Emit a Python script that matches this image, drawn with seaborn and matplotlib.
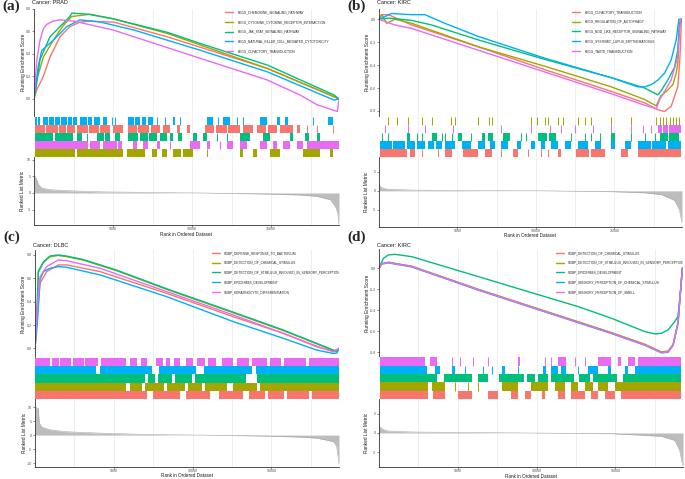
import numpy as np
import pandas as pd
import matplotlib
matplotlib.use("Agg")
import matplotlib.pyplot as plt
import seaborn as sns
from matplotlib.lines import Line2D

sns.set_theme(style="white")
plt.rcParams['font.family'] = ['Liberation Sans', 'DejaVu Sans']
plt.rcParams['axes.unicode_minus'] = False

W, H = 685, 479
N_GENES = 19300
COLORS = ['#F8766D', '#A3A500', '#00BF7D', '#00B0F6', '#E76BF3']
RED, OLIVE, GREEN, BLUE, MAGENTA = COLORS

# ---------------- Panel (a) PRAD ----------------
A_SETS = ["KEGG_CHEMOKINE_SIGNALING_PATHWAY", "KEGG_CYTOKINE_CYTOKINE_RECEPTOR_INTERACTION",
          "KEGG_JAK_STAT_SIGNALING_PATHWAY", "KEGG_NATURAL_KILLER_CELL_MEDIATED_CYTOTOXICITY",
          "KEGG_OLFACTORY_TRANSDUCTION"]
A_RANK_CHEMO = [0, 170, 590, 1010, 1640, 2270, 2910, 3540, 5060, 8440, 14770, 18990, 19300]
A_ES_CHEMO = [0.0, 0.08, 0.20, 0.37, 0.55, 0.64, 0.68, 0.69, 0.68, 0.55, 0.27, 0.02, 0.0]
A_RANK_CYTO = [0, 170, 590, 1220, 1850, 2390, 3540, 5000, 8440, 14770, 18990, 19300]
A_ES_CYTO = [0.0, 0.17, 0.37, 0.52, 0.65, 0.73, 0.75, 0.71, 0.58, 0.27, 0.02, 0.0]
A_RANK_JAK = [0, 130, 380, 1010, 1640, 2270, 2400, 3440, 5000, 8440, 10550, 14770, 18990, 19300]
A_ES_JAK = [0.0, 0.10, 0.35, 0.55, 0.64, 0.73, 0.76, 0.75, 0.71, 0.59, 0.49, 0.30, 0.035, 0.0]
A_RANK_NK = [0, 270, 490, 1220, 2070, 2910, 4220, 6330, 10550, 14770, 18990, 19300]
A_ES_NK = [0.0, 0.29, 0.43, 0.52, 0.64, 0.70, 0.68, 0.61, 0.43, 0.24, -0.01, 0.0]
A_RANK_OLF = [0, 170, 380, 590, 800, 1220, 1650, 2490, 5020, 10510, 14730, 16840, 17890, 18950, 19200, 19300]
A_ES_OLF = [0.0, 0.34, 0.52, 0.62, 0.66, 0.69, 0.70, 0.69, 0.61, 0.36, 0.17, 0.035, -0.05, -0.10, -0.11, 0.0]
A_MET_RANK = [0, 170, 280, 490, 1010, 2070, 4180, 8400, 10520, 14740, 16850, 17900, 18750, 19070, 19220, 19300]
A_MET_VAL = [5.5, 4.0, 2.5, 1.5, 1.0, 0.7, 0.35, 0.1, 0.0, -0.3, -0.6, -1.0, -2.0, -4.0, -6.0, -9.6]
A_HIT_NK = [[60, 170], [270, 380], [590, 880], [940, 1250], [1300, 1650], [1700, 2070], [2170, 2400], [2480, 2700],
            [2910, 3330], [3440, 3700], [3800, 4180], [4390, 4600], [4920, 4920], [5130, 5130], [5970, 6300],
            [6380, 6710], [6820, 7100], [7200, 7550], [7760, 7760], [8290, 8290], [8820, 8930], [9240, 9240],
            [10930, 11350], [11670, 11670], [11980, 12400], [12830, 12830], [13250, 13250], [14310, 14730],
            [15360, 15570], [15890, 16100], [17680, 17680], [18630, 18950]]
A_HIT_CHEMO = [[60, 700], [780, 1500], [1600, 2000], [2100, 2600], [2700, 3400], [3500, 4100], [4200, 4800],
               [5020, 5650], [5970, 6500], [6600, 7300], [7400, 7980], [8190, 8610], [9030, 9240], [9660, 9870],
               [10820, 11400], [11500, 12200], [12300, 13040], [13250, 13880], [14090, 14700], [14800, 15360],
               [15570, 16420], [16630, 16840], [17260, 17260], [17890, 17890], [18950, 18950]]
A_HIT_JAK = [[60, 1200], [1300, 2490], [2700, 3020], [3330, 3330], [3970, 4400], [4500, 4810], [5130, 5440],
             [5970, 6600], [6700, 7200], [7300, 7760], [7980, 8400], [8610, 8820], [9140, 9350], [10090, 10300],
             [10720, 10930], [11560, 11560], [12190, 12190], [13040, 13670], [14520, 14940], [16200, 16420],
             [17150, 17370], [17890, 18100]]
A_HIT_OLF = [[60, 3440], [3540, 4180], [4390, 5230], [5340, 5550], [6290, 6500], [6920, 7240], [7760, 7980],
             [8610, 8610], [9870, 10510], [10930, 11140], [11770, 11770], [12190, 12620], [13040, 13460],
             [14310, 14730], [15150, 15360], [15780, 16200], [16630, 17050], [17260, 19300]]
A_HIT_CYTO = [[60, 2600], [2700, 5650], [5870, 7030], [7450, 7760], [8080, 8400], [8820, 9300], [9400, 10090],
              [10930, 10930], [13040, 13250], [13880, 14090], [14940, 15570], [17050, 18100], [18740, 18950]]

# ---------------- Panel (b) KIRC ----------------
B_SETS = ["KEGG_OLFACTORY_TRANSDUCTION", "KEGG_REGULATION_OF_AUTOPHAGY",
          "KEGG_NOD_LIKE_RECEPTOR_SIGNALING_PATHWAY", "KEGG_SYSTEMIC_LUPUS_ERYTHEMATOSUS",
          "KEGG_TASTE_TRANSDUCTION"]
B_RANK_OLF = [0, 170, 600, 2080, 6320, 10560, 14800, 16920, 17770, 18190, 18610, 19030, 19160, 19250, 19300]
B_ES_OLF = [0.0, 0.04, 0.04, -0.05, -0.24, -0.44, -0.63, -0.73, -0.79, -0.805, -0.76, -0.59, -0.36, -0.05, 0.0]
B_RANK_AUTO = [0, 170, 490, 1020, 2080, 6320, 10560, 14800, 16920, 17660, 17940, 18300, 18720, 18930, 19040,
               19100, 19200, 19300]
B_ES_AUTO = [0.0, 0.04, -0.035, 0.0, -0.035, -0.24, -0.41, -0.59, -0.70, -0.756, -0.67, -0.63, -0.57, -0.47,
             -0.38, -0.12, 0.0, 0.0]
B_RANK_NOD = [0, 600, 2080, 3350, 6320, 10560, 14800, 16920, 17770, 17990, 18400, 18820, 19030, 19140, 19300]
B_ES_NOD = [0.0, 0.01, -0.01, -0.05, -0.18, -0.35, -0.51, -0.60, -0.66, -0.62, -0.53, -0.42, -0.27, -0.035, 0.0]
B_RANK_SLE = [0, 800, 2080, 2920, 4190, 6320, 10560, 14800, 16490, 16920, 17350, 17770, 18190, 18610, 18930,
              19100, 19300]
B_ES_SLE = [0.0, 0.05, 0.04, 0.04, -0.035, -0.15, -0.34, -0.51, -0.59, -0.59, -0.57, -0.53, -0.47, -0.355,
            -0.18, 0.0, 0.0]
B_RANK_TASTE = [0, 380, 1020, 2080, 6320, 10560, 14800, 16920, 17660, 17880, 18190, 18610, 19030, 19200, 19300]
B_ES_TASTE = [0.0, -0.02, -0.05, -0.08, -0.27, -0.46, -0.65, -0.75, -0.78, -0.70, -0.63, -0.53, -0.33, 0.0, 0.0]
B_MET_RANK = [0, 170, 600, 2080, 6320, 10560, 14800, 16920, 17990, 18820, 19140, 19300]
B_MET_VAL = [1.5, 0.8, 0.4, 0.2, 0.05, 0.0, -0.2, -0.5, -1.0, -2.5, -5.0, -8.5]
B_HIT_AUTO = [[550, 550], [1120, 1120], [1820, 1820], [2760, 2760], [3390, 3390], [4580, 4580], [4830, 4830],
              [6320, 6320], [7000, 7000], [7170, 7170], [9710, 9710], [10090, 10090], [10560, 10560],
              [10770, 10770], [11410, 11410], [11720, 11720], [12680, 12680], [13100, 13100], [13530, 13530],
              [14800, 14800], [16070, 16070], [17660, 17660], [17870, 17870], [18080, 18080], [18300, 18300],
              [18510, 18510], [18720, 18720], [18930, 18930], [19100, 19100]]
B_HIT_TASTE = [[380, 380], [1870, 1870], [2930, 2930], [4730, 4730], [7800, 7800], [9710, 9710], [10880, 10880],
               [11620, 11620], [12470, 12470], [13630, 13630], [14800, 14800], [16070, 16070], [16810, 16810],
               [17340, 17340], [17770, 18000], [18100, 18400], [18500, 19250]]
B_HIT_NOD = [[170, 170], [590, 590], [1760, 1970], [2400, 2400], [2710, 2710], [3350, 3670], [3990, 3990],
             [4200, 4200], [4620, 4620], [5050, 5260], [5890, 5890], [6530, 6740], [6950, 7270], [7910, 8330],
             [9070, 9070], [9390, 9390], [10130, 10700], [10800, 11300], [12260, 12260], [13100, 13100],
             [13530, 13530], [14060, 14060], [14800, 15010], [16070, 16070], [16920, 16920], [17550, 17550],
             [17870, 18400], [18500, 19140]]
B_HIT_SLE = [[60, 800], [880, 1650], [1760, 2300], [2400, 2930], [3140, 3500], [3600, 3990], [4200, 4830],
             [5260, 5890], [6320, 6740], [7060, 7380], [7800, 8230], [8760, 9070], [9710, 9920], [10350, 10560],
             [10980, 11410], [11830, 12250], [12680, 13310], [13740, 14160], [14800, 15010], [15650, 16070],
             [16490, 17300], [17400, 18300], [18400, 19250]]
B_HIT_OLF = [[60, 1760], [1970, 2290], [2710, 2710], [3770, 3770], [4200, 4620], [5360, 6320], [6740, 7170],
             [7800, 7800], [8540, 8860], [9500, 9500], [10350, 10350], [10770, 10770], [11410, 11620],
             [12570, 13400], [13500, 14370], [15430, 15860], [16490, 19250]]

# ---------------- Panel (c) DLBC ----------------
C_SETS = ["GOBP_DEFENSE_RESPONSE_TO_BACTERIUM", "GOBP_DETECTION_OF_CHEMICAL_STIMULUS",
          "GOBP_DETECTION_OF_STIMULUS_INVOLVED_IN_SENSORY_PERCEPTION", "GOBP_EPIDERMIS_DEVELOPMENT",
          "GOBP_KERATINOCYTE_DIFFERENTIATION"]
C_RANK_DEF = [0, 150, 320, 740, 1480, 2010, 4130, 8360, 12590, 15770, 17880, 18940, 19300]
C_ES_DEF = [0.0, 0.30, 0.557, 0.657, 0.714, 0.714, 0.657, 0.471, 0.271, 0.129, 0.014, -0.023, 0.0]
C_RANK_DCS = [0, 150, 210, 530, 950, 1480, 2010, 3070, 5180, 8360, 12590, 15770, 17880, 18940, 19150, 19300]
C_ES_DCS = [0.0, 0.40, 0.65, 0.735, 0.785, 0.795, 0.785, 0.755, 0.665, 0.505, 0.305, 0.152, 0.04, -0.016,
            -0.03, 0.0]
C_RANK_DSSP = [0, 150, 210, 530, 950, 1480, 2010, 3070, 5180, 8360, 12590, 15770, 17880, 18940, 19150, 19260,
               19300]
C_ES_DSSP = [0.0, 0.41, 0.66, 0.74, 0.79, 0.80, 0.79, 0.76, 0.67, 0.51, 0.31, 0.157, 0.043, -0.014, -0.03,
             -0.014, 0.0]
C_RANK_EPI = [0, 150, 320, 530, 950, 1480, 2010, 4130, 8360, 12590, 15770, 17880, 18940, 19150, 19300]
C_ES_EPI = [0.0, 0.214, 0.586, 0.657, 0.686, 0.70, 0.694, 0.629, 0.443, 0.229, 0.086, -0.014, -0.043, -0.04, 0.0]
C_RANK_KERA = [0, 150, 320, 740, 1480, 2010, 4130, 8360, 12590, 15770, 17880, 18940, 19300]
C_ES_KERA = [0.0, 0.357, 0.614, 0.70, 0.757, 0.75, 0.686, 0.486, 0.286, 0.129, 0.02, -0.03, 0.0]
C_MET_RANK = [0, 210, 270, 420, 950, 2010, 4130, 6240, 8360, 10470, 12590, 14700, 16820, 17880, 18940, 19150,
              19300]
C_MET_VAL = [10.0, 9.5, 4.3, 2.9, 1.9, 1.2, 0.7, 0.36, 0.12, 0.0, -0.15, -0.35, -0.7, -1.07, -2.3, -4.0, -10.5]
C_HIT_KERA = [[0, 950], [1050, 1500], [1600, 2300], [2400, 3100], [3200, 4000], [4200, 5800], [6000, 6500],
              [6700, 7100], [7700, 8100], [8300, 8600], [8800, 9200], [9600, 10000], [10300, 10800],
              [11000, 11500], [11900, 12600], [12800, 13600], [13800, 14700], [14900, 15600], [15800, 17200],
              [17400, 19300]]
C_HIT_EPI = [[0, 3900], [4100, 7400], [7900, 10250], [10700, 13800], [14000, 19300]]
C_HIT_DSSP = [[0, 7000], [7200, 7600], [7800, 8700], [8900, 9950], [10150, 13400], [14100, 19300]]
C_HIT_DCS = [[0, 5800], [6000, 6800], [7000, 8200], [8400, 9500], [9700, 10600], [10800, 12200],
             [12600, 14100], [14300, 19300]]
C_HIT_DEF = [[0, 7100], [7500, 9200], [9600, 11100], [11700, 13200], [13600, 14600], [14800, 15800],
             [16000, 17400], [17600, 19300]]

# ---------------- Panel (d) KIRC ----------------
D_SETS = ["GOBP_DETECTION_OF_CHEMICAL_STIMULUS", "GOBP_DETECTION_OF_STIMULUS_INVOLVED_IN_SENSORY_PERCEPTION",
          "GOBP_EPIDERMIS_DEVELOPMENT", "GOBP_SENSORY_PERCEPTION_OF_CHEMICAL_STIMULUS",
          "GOBP_SENSORY_PERCEPTION_OF_SMELL"]
D_RANK_SENS = [0, 170, 590, 2070, 4190, 6300, 10530, 14760, 16870, 17930, 18350, 18670, 18980, 19150, 19260, 19300]
D_ES_DCS = [0.0, 0.045, 0.058, 0.02, -0.09, -0.20, -0.407, -0.613, -0.724, -0.797, -0.79, -0.726, -0.52, -0.20,
            0.0, 0.0]
D_ES_DSSP = [0.0, 0.044, 0.057, 0.019, -0.091, -0.201, -0.408, -0.614, -0.725, -0.798, -0.791, -0.727, -0.521,
             -0.201, 0.0, 0.0]
D_ES_SPCS = [0.0, 0.040, 0.052, 0.013, -0.097, -0.208, -0.415, -0.622, -0.733, -0.806, -0.80, -0.735, -0.53,
             -0.21, 0.0, 0.0]
D_ES_SMELL = [0.0, 0.041, 0.054, 0.016, -0.094, -0.205, -0.412, -0.619, -0.730, -0.803, -0.797, -0.732, -0.526,
              -0.206, 0.0, 0.0]
D_RANK_EPI = [0, 280, 590, 1010, 2070, 4190, 6300, 8420, 10530, 12640, 14760, 16870, 17510, 17930, 18350, 18770,
              18980, 19150, 19260, 19300]
D_ES_EPI = [0.0, 0.095, 0.127, 0.133, 0.111, 0.016, -0.079, -0.175, -0.27, -0.365, -0.476, -0.603, -0.625,
            -0.619, -0.587, -0.508, -0.46, -0.206, 0.0, 0.0]
D_MET_RANK = [0, 280, 590, 2070, 6300, 9470, 14760, 16870, 17930, 18770, 19090, 19260, 19300]
D_MET_VAL = [1.7, 0.85, 0.5, 0.26, 0.1, 0.0, -0.17, -0.6, -0.86, -1.9, -4.5, -8.0, -8.5]
D_HIT_SMELL = [[60, 2920], [3230, 3660], [4610, 4610], [5140, 5140], [5980, 5980], [6930, 6930], [8840, 8940],
               [10530, 10530], [10950, 10950], [11370, 11900], [12430, 12430], [13060, 13060], [13910, 14760],
               [15180, 15390], [15810, 16240], [16450, 19200]]
D_HIT_SPCS = [[60, 3020], [3550, 3870], [4610, 4820], [5450, 5450], [6620, 6620], [7150, 7150], [7780, 7990],
              [8840, 8840], [10420, 10630], [10950, 11370], [11580, 11900], [12640, 12640], [13280, 13910],
              [14540, 14760], [15600, 15810], [16240, 19200]]
D_HIT_EPI = [[60, 3700], [4100, 5900], [6300, 6900], [7600, 9200], [9400, 9900], [10100, 10700], [10900, 12400],
             [12700, 13400], [13600, 15100], [15500, 19200]]
D_HIT_DSSP = [[60, 3130], [3340, 4190], [4820, 4820], [5670, 5670], [6300, 6300], [7780, 8840], [9680, 10740],
              [11160, 11800], [12220, 12640], [13060, 13590], [13910, 14540], [14970, 19200]]
D_HIT_DCS = [[60, 3130], [3450, 4190], [5030, 5880], [6930, 7570], [8410, 8840], [9260, 9680], [10320, 10530],
             [11370, 11800], [12220, 13060], [13490, 13910], [14330, 14970], [15390, 19200]]

XTICKS = [5000, 10000, 15000]
XMINOR = [2500, 7500, 12500, 17500]

fig = plt.figure(figsize=(W / 100, H / 100), dpi=100)
fig.patch.set_facecolor('white')

TICK_FS = 2.6
AX_FS = 3.4
SPINE_C = '#333333'
TICK_C = '#4D4D4D'


def rect(l, t, r, b):
    return [l / W, 1 - b / H, (r - l) / W, (b - t) / H]


def ftext(x, y, s, **kw):
    fig.text(x / W, 1 - y / H, s, **kw)


def xgrid(ax):
    ax.set_xlim(0, N_GENES)
    ax.set_xticks(XTICKS)
    ax.set_xticks(XMINOR, minor=True)
    ax.grid(True, which='both', axis='x', color='#EBEBEB', lw=0.6)
    ax.grid(False, axis='y')
    ax.set_axisbelow(True)
    ax.set_facecolor('white')


def panel(l, r, t_es, b_es, b_hit, b_met, names, ranks, vals, hit_rows, met_rank, met_val,
          es_ylim, es_ticks, met_ylim, met_ticks, title, tag, tag_y, title_y, ylab_x, xlab_y,
          leg_anchor):
    ax_es = fig.add_axes(rect(l, t_es, r, b_es))
    ax_hit = fig.add_axes(rect(l, b_es, r, b_hit))
    ax_met = fig.add_axes(rect(l, b_hit, r, b_met))
    for ax in (ax_es, ax_hit, ax_met):
        xgrid(ax)
        for s in ax.spines.values():
            s.set_visible(False)

    # running enrichment score
    frames = [pd.DataFrame({'rank': rk, 'es': v, 'set': n}) for n, rk, v in zip(names, ranks, vals)]
    df = pd.concat(frames, ignore_index=True)
    sns.lineplot(data=df, x='rank', y='es', hue='set', hue_order=names, palette=COLORS,
                 estimator=None, sort=False, linewidth=1.0, legend=False, ax=ax_es)
    ax_es.set_ylim(*es_ylim)
    ax_es.set_yticks(es_ticks)
    ax_es.set_yticklabels([f"{v:.1f}" for v in es_ticks])
    ax_es.set_xlabel('')
    ax_es.set_ylabel('')
    ax_es.spines['left'].set_visible(True)
    ax_es.spines['left'].set_color(SPINE_C)
    ax_es.spines['left'].set_linewidth(0.6)
    ax_es.tick_params(axis='x', which='both', bottom=False, labelbottom=False)
    ax_es.tick_params(axis='y', left=True, length=1.2, width=0.4, color=SPINE_C, pad=0.8,
                      labelsize=TICK_FS, labelcolor=TICK_C)
    handles = [Line2D([0], [0], color=c, lw=1.0) for c in COLORS]
    leg = ax_es.legend(handles, names, loc='upper left', bbox_to_anchor=leg_anchor, frameon=False,
                       fontsize=2.35, handlelength=2.6, handletextpad=1.2, labelspacing=1.75,
                       borderpad=0, borderaxespad=0)
    for t in leg.get_texts():
        t.set_clip_on(True)
        t.set_clip_box(ax_es.bbox)

    # hit rows
    for i, (color, segs) in enumerate(hit_rows):
        y0 = 4 - i
        for s, e in segs:
            if e - s < 60:
                ax_hit.vlines(s, y0, y0 + 1, color=color, lw=0.7)
            else:
                ax_hit.broken_barh([(s, e - s)], (y0, 1), facecolors=color, edgecolor='none')
    ax_hit.set_ylim(0, 5)
    ax_hit.tick_params(axis='both', which='both', bottom=False, left=False,
                       labelbottom=False, labelleft=False)

    # ranked list metric
    ax_met.fill_between(met_rank, 0, met_val, color='#BDBDBD', lw=0)
    sns.lineplot(x=met_rank, y=met_val, color='#A8A8A8', linewidth=0.4, ax=ax_met)
    ax_met.set_ylim(*met_ylim)
    ax_met.set_yticks(met_ticks)
    ax_met.set_yticklabels([str(v) for v in met_ticks])
    ax_met.set_xticklabels([str(v) for v in XTICKS])
    ax_met.set_xlabel('')
    ax_met.set_ylabel('')
    for side in ('left', 'bottom'):
        ax_met.spines[side].set_visible(True)
        ax_met.spines[side].set_color(SPINE_C)
        ax_met.spines[side].set_linewidth(0.6)
    ax_met.tick_params(axis='both', which='major', length=1.2, width=0.4, color=SPINE_C, pad=0.8,
                       labelsize=TICK_FS, labelcolor=TICK_C, left=True, bottom=True)
    ax_met.tick_params(axis='x', which='major', pad=0.3)
    ax_met.tick_params(axis='x', which='minor', bottom=False)

    # texts
    ftext(l - 32, tag_y, tag, fontfamily='Liberation Serif', fontweight='bold',
          fontsize=11, ha='left', va='center')
    ftext(l - 2, title_y, title, fontsize=4.0, ha='left', va='center', color='#1A1A1A')
    ftext(ylab_x, (t_es + b_es) / 2, "Running Enrichment Score", fontsize=AX_FS, rotation=90,
          ha='center', va='center', color='#1A1A1A')
    ftext(ylab_x, (b_hit + b_met) / 2, "Ranked List Metric", fontsize=AX_FS, rotation=90,
          ha='center', va='center', color='#1A1A1A')
    ftext((l + r) / 2, xlab_y, "Rank in Ordered Dataset", fontsize=3.3, ha='center', va='center',
          color='#1A1A1A')


panel(34, 339, 8.6, 116.5, 157, 225, A_SETS,
      [A_RANK_CHEMO, A_RANK_CYTO, A_RANK_JAK, A_RANK_NK, A_RANK_OLF],
      [A_ES_CHEMO, A_ES_CYTO, A_ES_JAK, A_ES_NK, A_ES_OLF],
      [(BLUE, A_HIT_NK), (RED, A_HIT_CHEMO), (GREEN, A_HIT_JAK), (MAGENTA, A_HIT_OLF), (OLIVE, A_HIT_CYTO)],
      A_MET_RANK, A_MET_VAL, (-0.155, 0.80), [0.0, 0.2, 0.4, 0.6, 0.8], (-9.6, 10.8), [-5, 0, 5, 10],
      "Cancer: PRAD", "(a)", 6, 2.5, 23, 234.5, (0.626, 0.983))

panel(379, 682, 8.6, 117, 157, 227, B_SETS,
      [B_RANK_OLF, B_RANK_AUTO, B_RANK_NOD, B_RANK_SLE, B_RANK_TASTE],
      [B_ES_OLF, B_ES_AUTO, B_ES_NOD, B_ES_SLE, B_ES_TASTE],
      [(OLIVE, B_HIT_AUTO), (MAGENTA, B_HIT_TASTE), (GREEN, B_HIT_NOD), (BLUE, B_HIT_SLE), (RED, B_HIT_OLF)],
      B_MET_RANK, B_MET_VAL, (-0.853, 0.093), [-0.8, -0.6, -0.4, -0.2, 0.0], (-9.5, 8.9), [-5, 0, 5],
      "Cancer: KIRC", "(b)", 6, 2.5, 367, 235.5, (0.637, 0.986))

panel(35, 339, 250, 358, 399, 467, C_SETS,
      [C_RANK_DEF, C_RANK_DCS, C_RANK_DSSP, C_RANK_EPI, C_RANK_KERA],
      [C_ES_DEF, C_ES_DCS, C_ES_DSSP, C_ES_EPI, C_ES_KERA],
      [(MAGENTA, C_HIT_KERA), (BLUE, C_HIT_EPI), (GREEN, C_HIT_DSSP), (OLIVE, C_HIT_DCS), (RED, C_HIT_DEF)],
      C_MET_RANK, C_MET_VAL, (-0.082, 0.842), [0.0, 0.2, 0.4, 0.6, 0.8], (-11.4, 12.9), [-10, -5, 0, 5, 10],
      "Cancer: DLBC", "(c)", 237, 245.5, 24, 475.5, (0.582, 0.99))

panel(379, 683, 249.4, 357.2, 399, 467, D_SETS,
      [D_RANK_SENS, D_RANK_SENS, D_RANK_EPI, D_RANK_SENS, D_RANK_SENS],
      [D_ES_DCS, D_ES_DSSP, D_ES_EPI, D_ES_SPCS, D_ES_SMELL],
      [(MAGENTA, D_HIT_SMELL), (BLUE, D_HIT_SPCS), (GREEN, D_HIT_EPI), (OLIVE, D_HIT_DSSP), (RED, D_HIT_DCS)],
      D_MET_RANK, D_MET_VAL, (-0.847, 0.18), [-0.8, -0.6, -0.4, -0.2, 0.0], (-8.8, 8.8), [-5, 0, 5],
      "Cancer: KIRC", "(d)", 237, 245.5, 367, 476, (0.582, 0.984))

fig.savefig("out.png", dpi=100, facecolor='white')
